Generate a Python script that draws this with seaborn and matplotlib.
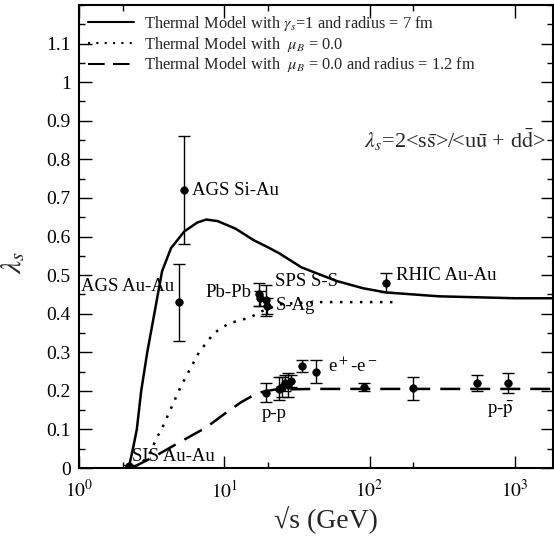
import numpy as np
import pandas as pd
import matplotlib
matplotlib.use("Agg")
import matplotlib.pyplot as plt
import matplotlib.ticker as mticker
import seaborn as sns

# ---- model curves ----
solid_x = [2.2, 2.35, 2.5, 2.68, 2.95, 3.3, 3.73, 4.3, 5.3, 6.5, 7.5, 9, 12, 16, 20, 24, 34, 59, 90, 130, 300, 1000, 1800]
solid_y = [0.0, 0.05, 0.10, 0.20, 0.30, 0.40, 0.51, 0.57, 0.613, 0.636, 0.644, 0.640, 0.620, 0.590, 0.572, 0.556, 0.520, 0.485, 0.466, 0.455, 0.445, 0.440, 0.440]

dotted_x = [2.45, 3.0, 3.45, 3.7, 5.0, 6.7, 8.5, 10.8, 15, 19, 25, 40, 80, 144]
dotted_y = [0.0, 0.03, 0.08, 0.10, 0.21, 0.30, 0.35, 0.375, 0.39, 0.41, 0.425, 0.43, 0.43, 0.43]

dashed_x = [2.3, 2.6, 3.5, 5.1, 7.5, 10, 13, 17, 22, 40, 200, 1800]
dashed_y = [0.0, 0.01, 0.035, 0.07, 0.105, 0.14, 0.17, 0.195, 0.203, 0.205, 0.205, 0.205]

legend_labels = [
    r'Thermal Model with $\gamma_s$=1 and radius = 7 fm',
    r'Thermal Model with  $\mu_B$ = 0.0',
    r'Thermal Model with  $\mu_B$ = 0.0 and radius = 1.2 fm',
]

# ---- data points ----
pt_x = [2.2, 4.9, 5.3, 17.3, 17.6, 19.4, 19.6, 130,
        19.4, 23.8, 25.0, 26.0, 27.4,
        29.0, 34.0, 43.0, 91.0,
        200, 546, 900]
pt_y = [0.005, 0.43, 0.72, 0.45, 0.44, 0.435, 0.42, 0.48,
        0.195, 0.205, 0.21, 0.22, 0.215,
        0.225, 0.265, 0.25, 0.21,
        0.207, 0.22, 0.22]
pt_err = [0.004, 0.10, 0.14, 0.03, 0.02, 0.04, 0.02, 0.025,
          0.025, 0.03, 0.025, 0.02, 0.03,
          0.015, 0.015, 0.03, 0.01,
          0.03, 0.02, 0.025]

# ---- annotations ----
ann_text = ['AGS Si-Au', 'AGS Au-Au', 'Pb-Pb', 'SPS S-S', 'S-Ag', 'RHIC Au-Au',
            r'e$^+$-e$^-$', 'p-p', r'p-$\bar{\rm p}$', 'SIS Au-Au']
ann_x = [6.0, 1.03, 7.4, 22.5, 22.5, 152, 52, 18, 640, 2.3]
ann_y = [0.72, 0.47, 0.455, 0.483, 0.42, 0.50, 0.265, 0.14, 0.15, 0.03]

sns.set_style("ticks")
plt.rcParams['font.family'] = ['Liberation Serif', 'DejaVu Serif']
plt.rcParams['mathtext.fontset'] = 'stix'

fig = plt.figure(figsize=(5.54, 5.39), dpi=100)
ax = fig.add_axes([0.1426, 0.1317, 0.8556, 0.859])

curves = pd.concat([
    pd.DataFrame({'x': solid_x, 'y': solid_y, 'model': legend_labels[0]}),
    pd.DataFrame({'x': dotted_x, 'y': dotted_y, 'model': legend_labels[1]}),
    pd.DataFrame({'x': dashed_x, 'y': dashed_y, 'model': legend_labels[2]}),
])
sns.lineplot(data=curves, x='x', y='y', hue='model', style='model',
             palette=['black'] * 3,
             dashes={legend_labels[0]: '', legend_labels[1]: (1, 3), legend_labels[2]: (8, 4)},
             linewidth=1.8, sort=False, estimator=None, ax=ax, legend=True)

ax.errorbar(pt_x, pt_y, yerr=pt_err, fmt='none', ecolor='black', elinewidth=1.0,
            capsize=4, capthick=1.0, zorder=3)
sns.scatterplot(x=pt_x, y=pt_y, color='black', s=30, edgecolor='black', ax=ax, zorder=4, legend=False)

for t, x, y in zip(ann_text, ann_x, ann_y):
    ax.text(x, y, t, fontsize=13.5, va='center', ha='left', color='black')

ax.text(0.985, 0.71, r'$\lambda_s$=2<s$\bar{\rm s}$>/<u$\bar{\rm u}$ + d$\bar{\rm d}$>',
        transform=ax.transAxes, ha='right', va='center', fontsize=16)

ax.set_xscale('log')
ax.set_xlim(1, 1830)
ax.set_ylim(0, 1.2)
ax.set_yticks(np.arange(0, 1.11, 0.1))
ax.set_yticklabels(['0', '0.1', '0.2', '0.3', '0.4', '0.5', '0.6', '0.7', '0.8', '0.9', '1', '1.1'])
ax.yaxis.set_minor_locator(mticker.MultipleLocator(0.05))
ax.set_xticks([1, 10, 100, 1000])
ax.set_xticklabels([r'$10^0$', r'$10^1$', r'$10^2$', r'$10^3$'])
ax.xaxis.set_minor_locator(mticker.FixedLocator([2, 20, 200]))
ax.xaxis.set_minor_formatter(mticker.NullFormatter())
ax.tick_params(which='both', direction='in', top=True, right=True, colors='black', labelsize=14)
ax.tick_params(which='major', length=9, width=1.0)
ax.tick_params(which='minor', length=4, width=1.0)
ax.tick_params(axis='x', which='major', pad=8)
ax.tick_params(axis='y', which='major', pad=6)
for s in ax.spines.values():
    s.set_linewidth(1.5)
    s.set_color('black')

ax.set_xlabel('\u221as (GeV)', fontsize=20)
ax.set_ylabel(r'$\lambda_s$', fontsize=21)
ax.xaxis.set_label_coords(0.52, -0.08)
ax.yaxis.set_label_coords(-0.11, 0.445)

leg = ax.legend(loc='upper left', frameon=False, fontsize=11.8, handlelength=2.8,
                borderaxespad=0.15, labelspacing=0.1, handletextpad=0.6)
for line in leg.get_lines():
    line.set_linewidth(1.5)

fig.savefig('out.png', dpi=100)
